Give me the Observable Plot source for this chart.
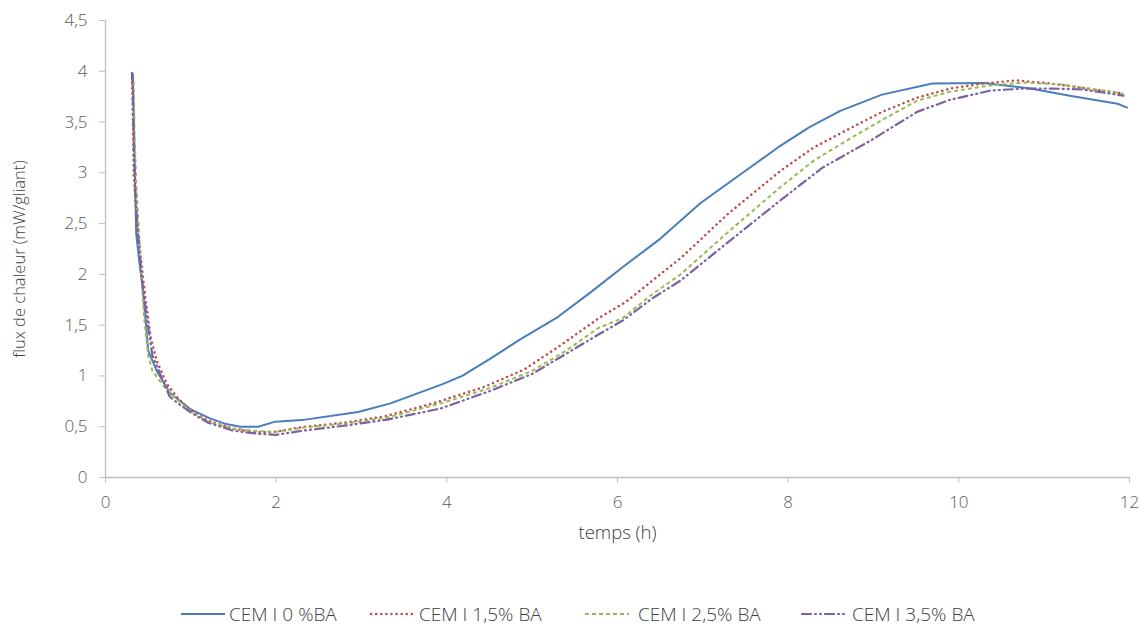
<!DOCTYPE html>
<html>
<head>
<meta charset="utf-8">
<script src="https://cdn.jsdelivr.net/npm/d3@7"></script>
<script src="https://cdn.jsdelivr.net/npm/@observablehq/plot@0.6"></script>
<style>
  html, body { margin: 0; padding: 0; background: #fff; }
  #wrap { position: relative; width: 1146px; height: 628px; font-family: "Open Sans", Lato, sans-serif; }
  #legend { position: absolute; left: 0; top: 601px; width: 1146px; height: 26px; }
  .sw { position: absolute; top: 8px; }
  .lt { position: absolute; top: 0; line-height: 26px; font-size: 19px; color: #404040; font-weight: 300; white-space: nowrap; }
</style>
</head>
<body>
<div id="wrap"><div id="chart"></div><div id="legend"></div></div>
<script>
// Series names
const seriesNames = ["CEM I 0 %BA", "CEM I 1,5% BA", "CEM I 2,5% BA", "CEM I 3,5% BA"];
// Time (h) and heat flux (mW/gliant) for each series
const s0 = [[0.32,3.98],[0.33,3.6],[0.34,3.2],[0.36,2.4],[0.4,2.1],[0.43,1.9],[0.47,1.55],[0.5,1.25],[0.6,1.05],[0.76,0.83],[1.0,0.67],[1.23,0.58],[1.4,0.53],[1.58,0.5],[1.79,0.5],[1.99,0.55],[2.3,0.565],[2.96,0.645],[3.34,0.73],[3.95,0.92],[4.18,1.0],[4.51,1.17],[4.86,1.36],[5.3,1.58],[5.68,1.82],[6.09,2.09],[6.5,2.35],[6.97,2.70],[7.5,3.02],[7.88,3.25],[8.25,3.45],[8.61,3.61],[9.1,3.77],[9.69,3.88],[10.29,3.885],[10.84,3.83],[11.3,3.76],[11.86,3.68],[11.98,3.64]];
const s1 = [[0.31,3.98],[0.32,3.6],[0.33,3.0],[0.36,2.6],[0.41,2.2],[0.47,1.75],[0.53,1.38],[0.6,1.15],[0.72,0.92],[0.85,0.78],[1.0,0.66],[1.2,0.56],[1.5,0.48],[1.78,0.445],[2.0,0.45],[2.29,0.495],[2.8,0.54],[3.26,0.6],[3.84,0.73],[4.43,0.89],[4.9,1.06],[5.33,1.3],[5.8,1.58],[6.1,1.73],[6.5,2.0],[6.74,2.16],[7.3,2.6],[7.91,3.02],[8.3,3.25],[8.73,3.44],[9.1,3.6],[9.51,3.74],[9.9,3.83],[10.29,3.88],[10.68,3.91],[11.07,3.88],[11.5,3.83],[11.93,3.78]];
const s2 = [[0.33,3.9],[0.34,3.4],[0.36,2.9],[0.4,2.3],[0.45,1.6],[0.5,1.2],[0.55,1.05],[0.7,0.88],[0.85,0.76],[1.0,0.65],[1.2,0.55],[1.5,0.48],[1.8,0.455],[2.0,0.45],[2.3,0.49],[2.8,0.53],[3.3,0.59],[3.93,0.73],[4.5,0.88],[5.0,1.05],[5.4,1.25],[5.77,1.47],[6.06,1.57],[6.4,1.8],[6.74,2.0],[7.3,2.42],[7.91,2.86],[8.3,3.12],[8.73,3.34],[9.1,3.52],[9.51,3.71],[9.9,3.8],[10.37,3.86],[10.77,3.89],[11.2,3.87],[11.6,3.82],[11.93,3.78]];
const s3 = [[0.31,3.98],[0.32,3.8],[0.33,3.3],[0.35,2.8],[0.38,2.4],[0.42,2.0],[0.48,1.6],[0.55,1.2],[0.65,1.0],[0.75,0.8],[0.85,0.73],[1.0,0.64],[1.2,0.54],[1.5,0.46],[1.8,0.43],[2.0,0.42],[2.3,0.46],[2.8,0.51],[3.3,0.57],[3.93,0.68],[4.5,0.85],[5.0,1.02],[5.3,1.17],[5.7,1.37],[6.07,1.55],[6.4,1.76],[6.74,1.94],[7.3,2.32],[7.91,2.73],[8.4,3.05],[8.97,3.32],[9.51,3.6],[9.9,3.72],[10.37,3.81],[10.77,3.83],[11.1,3.83],[11.46,3.82],[11.93,3.76]];
const xTicks = [0, 2, 4, 6, 8, 10, 12];
const yTicks = [0, 0.5, 1, 1.5, 2, 2.5, 3, 3.5, 4, 4.5];
const xTitle = "temps (h)";
const yTitle = "flux de chaleur (mW/gliant)";

const colors = ["#4a7ebb", "#be4b48", "#98b954", "#7d60a0"];
const dashes = [null, "0.1 5", "4 3", "9 4 1 4 1 4"];
const widths = [2, 2.5, 2, 2.2];
const caps = ["butt", "round", "butt", "round"];
const allSeries = [s0, s1, s2, s3];

const fmt = d => String(d).replace(".", ",");

const lineMarks = allSeries.map((s, i) => Plot.line(s, {
  x: d => d[0], y: d => d[1],
  stroke: colors[i], strokeWidth: widths[i],
  strokeDasharray: dashes[i], strokeLinecap: caps[i], strokeLinejoin: "round"
}));

const chart = Plot.plot({
  width: 1146, height: 560,
  marginLeft: 105, marginRight: 17, marginTop: 20, marginBottom: 83,
  style: { fontFamily: "'Open Sans', Lato, sans-serif", fontSize: "17px", color: "#595959", background: "#fff", fontWeight: 300 },
  x: { domain: [0, 12], ticks: xTicks, tickFormat: fmt },
  y: { domain: [0, 4.5], ticks: yTicks, tickFormat: fmt },
  marks: [
    Plot.axisX({ ticks: xTicks, tickFormat: fmt, tickSize: 6, tickPadding: 12, stroke: "#bfbfbf", label: null, fill: "#595959" }),
    Plot.axisY({ ticks: yTicks, tickFormat: fmt, tickSize: 6, tickPadding: 12, stroke: "#bfbfbf", label: null, fill: "#595959" }),
    Plot.text([xTitle], { text: d => d, frameAnchor: "bottom", dy: 61, fontSize: 18.5, fill: "#404040" }),
    Plot.text([yTitle], { text: d => d, frameAnchor: "left", textAnchor: "middle", dx: -86, dy: 10, rotate: -90, fontSize: 16.5, fill: "#404040" }),
    Plot.ruleX([0], { stroke: "#bfbfbf", strokeWidth: 1.3 }),
    Plot.ruleY([0], { stroke: "#bfbfbf", strokeWidth: 1.3 }),
    ...lineMarks
  ]
});
document.getElementById("chart").appendChild(chart);

// Legend
const swatchLeft = [180, 370, 584, 801];
const textLeft = [229, 419, 638, 852];
const legend = document.getElementById("legend");
const ns = "http://www.w3.org/2000/svg";
seriesNames.forEach((name, i) => {
  const svg = document.createElementNS(ns, "svg");
  svg.setAttribute("class", "sw");
  svg.style.left = swatchLeft[i] + "px";
  svg.setAttribute("width", 46);
  svg.setAttribute("height", 10);
  const ln = document.createElementNS(ns, "line");
  ln.setAttribute("x1", 1); ln.setAttribute("x2", 45);
  ln.setAttribute("y1", 5); ln.setAttribute("y2", 5);
  ln.setAttribute("stroke", colors[i]);
  ln.setAttribute("stroke-width", widths[i]);
  if (dashes[i]) ln.setAttribute("stroke-dasharray", dashes[i]);
  ln.setAttribute("stroke-linecap", caps[i]);
  svg.appendChild(ln);
  legend.appendChild(svg);
  const t = document.createElement("span");
  t.className = "lt";
  t.style.left = textLeft[i] + "px";
  t.textContent = name;
  legend.appendChild(t);
});
</script>
</body>
</html>
